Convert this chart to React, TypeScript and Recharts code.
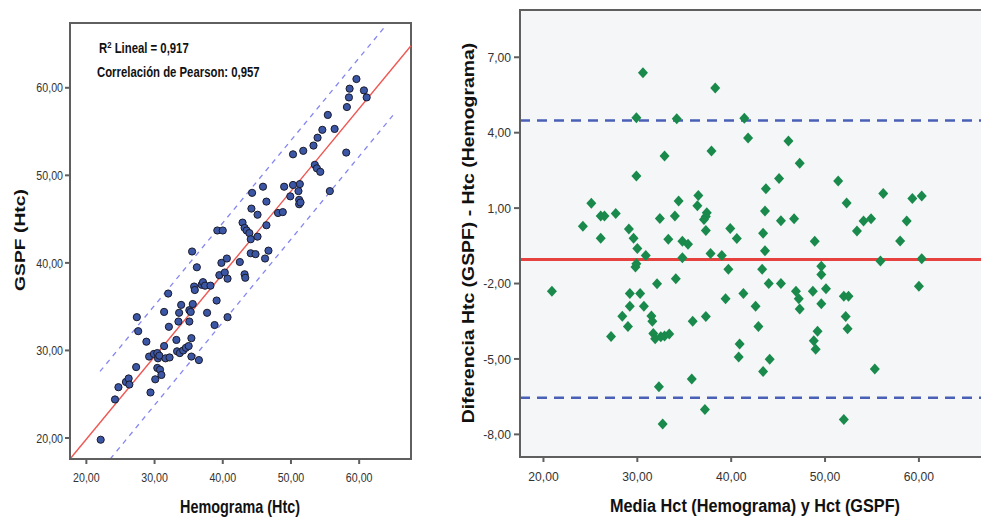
import {
  ComposedChart,
  Scatter,
  XAxis,
  YAxis,
  ReferenceLine,
  ReferenceArea,
} from "recharts"

// Hemograma (Htc) vs GSPF (Htc), one entry per patient
const hemogramaHtc = [
  22.1, 24.2, 24.7, 25.8, 26.2, 26.3, 27.3, 27.4, 27.6, 28.8, 29.2, 29.4, 29.9, 30.1, 30.4, 30.5, 30.4,
  30.7, 30.8, 31.0, 31.4, 31.4, 31.6, 32.0, 32.1, 32.2, 33.2, 33.3, 33.5, 33.6, 33.7, 33.9, 34.2, 34.6,
  35.0, 35.1, 35.1, 35.3, 35.4, 35.4, 35.5, 35.6, 35.8, 35.9, 36.2, 36.5, 36.9, 37.1, 37.4, 37.7, 38.2,
  38.8, 39.1, 39.5, 39.8, 40.3, 40.6, 40.7, 40.7, 42.5, 43.2, 43.3, 44.1, 44.8, 46.2, 46.7,
  39.2, 40.0, 42.9, 43.2, 43.5, 43.9, 44.1, 44.2, 44.3, 45.1, 45.1, 45.9, 46.4, 46.4, 48.1, 48.8, 49.0,
  49.9, 50.3, 50.3, 51.1, 51.2, 51.3, 51.2, 51.4, 51.8, 53.3, 53.5, 53.8, 53.9, 54.3, 54.6, 55.4, 55.7,
  56.4, 58.1, 58.2, 58.5, 58.6, 59.6, 60.7, 61.1,
]
const gspfHtc = [
  19.8, 24.4, 25.8, 26.4, 26.8, 26.1, 28.1, 33.8, 32.2, 31.0, 29.3, 25.2, 29.6, 26.7, 29.7, 29.1, 28.0,
  29.4, 27.8, 27.2, 34.4, 30.5, 29.1, 36.5, 32.7, 29.2, 31.2, 29.9, 33.3, 34.3, 29.7, 35.2, 30.0, 30.3,
  30.5, 33.3, 34.6, 34.4, 31.4, 29.3, 41.3, 35.3, 37.3, 36.9, 39.5, 28.9, 37.5, 37.8, 37.4, 34.3, 37.4,
  32.9, 35.7, 38.6, 40.0, 38.9, 40.5, 33.8, 38.2, 40.1, 38.7, 38.3, 41.1, 41.0, 40.5, 41.4,
  43.7, 43.7, 44.6, 44.0, 43.7, 43.4, 42.7, 46.2, 48.0, 45.5, 43.0, 48.7, 47.0, 44.3, 45.7, 45.8, 48.7,
  47.6, 48.9, 52.4, 48.2, 47.2, 49.0, 46.7, 46.9, 52.8, 53.4, 51.2, 50.8, 54.3, 50.4, 55.2, 56.9, 48.2,
  55.3, 52.6, 57.8, 58.9, 59.9, 61.0, 59.7, 58.9,
]

// regression line and prediction bands (end points, data units)
const fitX = [17.6, 67.6]
const fitY = [17.6, 64.8]
const upperBandX = [22.0, 63.8]
const upperBandY = [27.6, 67.0]
const lowerBandX = [23.5, 65.0]
const lowerBandY = [17.6, 56.9]

// Bland-Altman
const mediaHct = [
  30.6, 38.3, 29.9, 34.2, 41.4, 41.8, 46.1, 32.9, 37.9, 47.3, 29.9, 45.1, 43.7, 51.4, 56.2, 59.3, 60.3,
  52.3, 25.1, 36.5, 34.4, 36.4, 26.1, 26.5, 27.7, 24.2, 32.4, 34.0, 37.4, 37.3, 37.1, 43.6, 45.3, 46.7,
  54.1, 54.9, 58.7, 26.1, 29.1, 29.6, 33.3, 34.8, 35.4, 37.3, 39.9, 40.6, 43.4, 43.6, 48.9, 53.4, 58.0,
  30.0, 30.9, 37.8, 39.0,
  29.8, 29.9, 34.8, 39.7, 43.3, 49.6, 49.6, 55.9, 60.3, 20.9, 32.1, 34.1, 29.2, 30.3, 29.2, 30.7, 28.4,
  29.0, 31.5, 31.6, 27.2, 31.7, 31.9, 32.5, 32.9, 33.4, 35.9, 37.3, 39.4, 41.3, 44.0, 45.3, 42.6, 42.9,
  46.9, 47.2, 47.3, 48.7, 50.1, 49.6, 49.2, 48.8, 49.0, 52.0, 52.5, 52.2, 52.4, 60.0, 40.9, 40.8, 44.1,
  43.4, 55.3, 35.8, 32.3, 37.2, 32.7, 52.0,
]
const diferenciaHtc = [
  6.38, 5.78, 4.59, 4.55, 4.57, 3.79, 3.67, 3.07, 3.27, 2.78, 2.28, 2.18, 1.77, 2.08, 1.58, 1.38, 1.48,
  1.2, 1.19, 1.5, 1.28, 1.09, 0.69, 0.69, 0.79, 0.28, 0.59, 0.69, 0.82, 0.67, 0.55, 0.88, 0.5, 0.58,
  0.49, 0.58, 0.49, -0.2, 0.17, -0.2, -0.24, -0.32, -0.44, 0.11, 0.19, -0.21, 0.0, -0.7, -0.32, 0.09,
  -0.31, -0.61, -0.89, -0.81, -0.89,
  -1.34, -1.21, -0.97, -1.43, -1.43, -1.31, -1.64, -1.1, -1.01, -2.31, -2.01, -1.81, -2.4, -2.4, -2.9,
  -2.9, -3.3, -3.71, -3.29, -3.5, -4.11, -3.99, -4.2, -4.12, -4.09, -4.01, -3.5, -3.31, -2.61, -2.4, -2.0,
  -2.0, -2.9, -3.71, -2.31, -2.61, -3.01, -2.31, -2.21, -2.8, -3.9, -4.28, -4.61, -2.51, -2.51, -3.31,
  -3.8, -2.11, -4.41, -4.92, -5.01, -5.5, -5.4, -5.8, -6.11, -7.01, -7.59, -7.41,
]
const meanDiff = -1.04
const upperLoA = 4.48
const lowerLoA = -6.54

const leftTicks = [20, 30, 40, 50, 60]
const rightXTicks = [20, 30, 40, 50, 60]
const rightYTicks = [7, 4, 1, -2, -5, -8]

const sans = "'Liberation Sans', Arial, sans-serif"
const fmt = (v: number) => v.toFixed(2).replace(".", ",")

// the source image is squeezed sideways, so text is drawn narrower with scale(sx, 1)
const makeTick = (fs: number, sx: number, anchor: "middle" | "end", dy: string) => (p: any) => (
  <g transform={`translate(${p.x},${p.y}) scale(${sx},1)`}>
    <text x={0} y={0} dy={dy} textAnchor={anchor} fontFamily={sans} fontSize={fs} fill="#333">
      {fmt(p.payload.value)}
    </text>
  </g>
)

const title = (text: string, x: number, y: number, fs: number, sx: number, rotate = false) => () => (
  <g transform={`translate(${x},${y}) scale(${sx},1)${rotate ? " rotate(-90)" : ""}`}>
    <text x={0} y={0} textAnchor="middle" fontFamily={sans} fontWeight={700} fontSize={fs} fill="#111">
      {text}
    </text>
  </g>
)

const Dot = (p: any) => (
  <circle cx={p.cx} cy={p.cy} r={3.6} fill="#3a56a4" stroke="#1b1b2a" strokeWidth={1} />
)
const Diamond = (p: any) => (
  <polygon
    points={`${p.cx},${p.cy - 5.5} ${p.cx + 5},${p.cy} ${p.cx},${p.cy + 5.5} ${p.cx - 5},${p.cy}`}
    fill="#198a4b"
  />
)

const noteStyle = {
  position: "absolute" as const,
  fontFamily: sans,
  fontWeight: 700,
  fontSize: 14,
  lineHeight: "16px",
  color: "#111",
  whiteSpace: "nowrap" as const,
  transform: "scaleX(0.81)",
  transformOrigin: "left top",
}

export default function App() {
  const leftData = hemogramaHtc.map((x, i) => ({ x, y: gspfHtc[i] }))
  const baData = mediaHct.map((x, i) => ({ x, y: diferenciaHtc[i] }))
  const lx: [number, number] = [17.6, 67.6]
  const ly: [number, number] = [17.6, 67.4]
  const rx: [number, number] = [17.5, 68]
  const ry: [number, number] = [-8.9, 8.88]

  return (
    <div
      style={{
        position: "absolute",
        left: 0,
        top: 0,
        width: 981,
        height: 520,
        overflow: "hidden",
        background: "#fff",
      }}
    >
      <div style={{ position: "absolute", left: 0, top: 0 }}>
        <ComposedChart width={420} height={520} data={leftData} margin={{ top: 23, right: 9, bottom: 0, left: 0 }}>
          <ReferenceArea x1={lx[0]} x2={lx[1]} y1={ly[0]} y2={ly[1]} fill="none" stroke="#5f5f5f" strokeWidth={2} />
          <XAxis
            type="number"
            dataKey="x"
            domain={lx}
            ticks={leftTicks}
            allowDataOverflow
            height={61}
            tickSize={5}
            tickMargin={9}
            tick={makeTick(13, 0.82, "middle", "0.71em")}
            stroke="#5f5f5f"
            strokeWidth={2}
            label={{ content: title("Hemograma (Htc)", 240, 513, 18.6, 0.775) }}
          />
          <YAxis
            type="number"
            dataKey="y"
            domain={ly}
            ticks={leftTicks}
            allowDataOverflow
            width={70}
            tickSize={5}
            tickMargin={2}
            tick={makeTick(13, 0.82, "end", "0.355em")}
            stroke="#5f5f5f"
            strokeWidth={2}
            label={{ content: title("GSPF (Htc)", 24.5, 240, 19.3, 0.77, true) }}
          />
          <ReferenceLine
            segment={[{ x: upperBandX[0], y: upperBandY[0] }, { x: upperBandX[1], y: upperBandY[1] }]}
            stroke="#8486f2"
            strokeWidth={1.3}
            strokeDasharray="5 5"
          />
          <ReferenceLine
            segment={[{ x: lowerBandX[0], y: lowerBandY[0] }, { x: lowerBandX[1], y: lowerBandY[1] }]}
            stroke="#8486f2"
            strokeWidth={1.3}
            strokeDasharray="5 5"
          />
          <ReferenceLine
            segment={[{ x: fitX[0], y: fitY[0] }, { x: fitX[1], y: fitY[1] }]}
            stroke="#ee5752"
            strokeWidth={1.4}
          />
          <Scatter data={leftData} shape={Dot} isAnimationActive={false} />
        </ComposedChart>
      </div>

      <div style={{ ...noteStyle, left: 99, top: 40 }}>
        R<span style={{ fontSize: 9.5, position: "relative", top: -5 }}>2</span> Lineal = 0,917
      </div>
      <div style={{ ...noteStyle, left: 97, top: 64 }}>Correlación de Pearson: 0,957</div>

      <div style={{ position: "absolute", left: 440, top: 0 }}>
        <ComposedChart width={560} height={520} data={baData} margin={{ top: 10, right: 6, bottom: 0, left: 0 }}>
          <ReferenceArea x1={rx[0]} x2={rx[1]} y1={ry[0]} y2={ry[1]} fill="#eceef2" stroke="#5f5f5f" strokeWidth={2} />
          <XAxis
            type="number"
            dataKey="x"
            domain={rx}
            ticks={rightXTicks}
            allowDataOverflow
            height={63}
            tickSize={5}
            tickMargin={9}
            tick={makeTick(13.5, 0.9, "middle", "0.71em")}
            stroke="#5f5f5f"
            strokeWidth={2}
            label={{ content: title("Media Hct (Hemograma) y Hct (GSPF)", 315, 512, 18.7, 0.87) }}
          />
          <YAxis
            type="number"
            dataKey="y"
            domain={ry}
            ticks={rightYTicks}
            allowDataOverflow
            width={80}
            tickSize={6}
            tickMargin={3}
            tick={makeTick(13.5, 0.9, "end", "0.355em")}
            stroke="#5f5f5f"
            strokeWidth={2}
            label={{
              content: title("Diferencia Htc (GSPF) - Htc (Hemograma)", 33.5, 233, 19.4, 0.85, true),
            }}
          />
          <ReferenceLine y={upperLoA} stroke="#4a60b6" strokeWidth={2.5} strokeDasharray="10 7" />
          <ReferenceLine y={lowerLoA} stroke="#4a60b6" strokeWidth={2.5} strokeDasharray="10 7" />
          <ReferenceLine y={meanDiff} stroke="#e6403f" strokeWidth={3} />
          <Scatter data={baData} shape={Diamond} isAnimationActive={false} />
        </ComposedChart>
      </div>
    </div>
  )
}
